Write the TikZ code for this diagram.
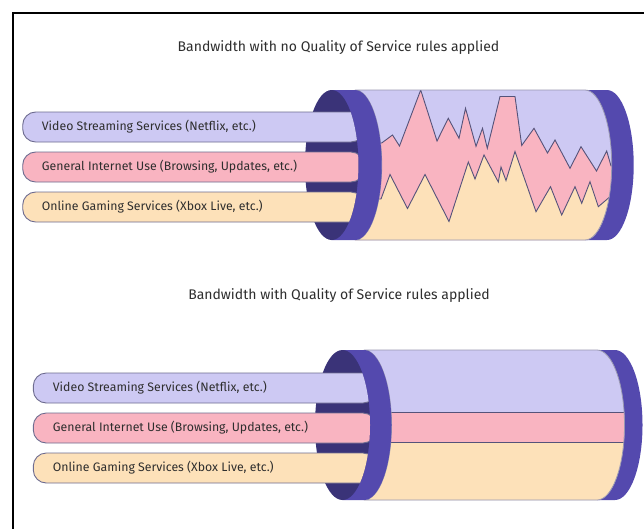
\documentclass[tikz,border=0pt]{standalone}
\usepackage{fontspec}
\setmainfont{Fira Sans}
\definecolor{vid}{HTML}{CDC9F3}
\definecolor{gen}{HTML}{F9B4C1}
\definecolor{game}{HTML}{FDE1B9}
\definecolor{rimc}{HTML}{5449AE}
\definecolor{holec}{HTML}{3A3378}
\definecolor{edgec}{HTML}{6E6C90}
\definecolor{zigc}{HTML}{55537A}
\definecolor{txt}{HTML}{2E2E2E}
% tube shapes: #1 left x, #2 right x, #3 x radius, #4 top y, #5 bottom y
\newcommand\shellpath[5]{(#1,#4) -- (#2,#4) arc[start angle=-90,end angle=90,x radius=#3,y radius=75] -- (#1,#5) arc[start angle=90,end angle=-90,x radius=#3,y radius=75] -- cycle}
\newcommand\rimpath[5]{(#1,#4) -- (#2,#4) arc[start angle=-90,end angle=90,x radius=#3,y radius=75] -- (#1,#5) -- cycle}
% region left of a tube opening: #1 centre x, #2 x radius, #3 top y
\newcommand\openclip[3]{(0,0) -- (#1,0) -- (#1,#3) arc[start angle=-90,end angle=90,x radius=#2,y radius=75] -- (#1,528) -- (0,528) -- cycle}
\begin{document}
\begin{tikzpicture}[x=1pt,y=-1pt,
  pill/.style={draw=edgec,line width=0.9pt,rounded corners=13pt},
  lbl/.style={anchor=west,inner sep=0pt,text=txt,font=\fontsize{12.3}{14}\selectfont},
  ttl/.style={inner sep=0pt,text=txt,font=\fontsize{14}{16}\selectfont},
  zig/.style={draw=zigc,line width=0.9pt,line join=miter},
  shell/.style={draw=edgec!70,line width=0.8pt}]
\useasboundingbox (0,0) rectangle (644,528);
\fill[white] (0,0) rectangle (644,528);
% frame
\draw[line width=2pt] (12.7,529) -- (12.7,12.7) -- (645,12.7);

% ---------- titles ----------
\node[ttl] (t1) at (338.5,48) {Bandwidth with no Quality of Service rules applied};
\node[ttl] (t2) at (339,296) {Bandwidth with Quality of Service rules applied};

% ---------- upper tube (no QoS) ----------
\fill[rimc] \rimpath{585}{607}{26.7}{90}{240};
\fill[vid] \shellpath{355}{585}{26.7}{90}{240};
\begin{scope}
  \clip \shellpath{355}{585}{26.7}{90}{240};
  \fill[gen] (340,143) -- (381.7,143) -- (392.5,135) -- (399.5,146) -- (420.7,90) -- (437,141) -- (448.3,118.3) -- (459,138.3) -- (465.5,108.3) -- (476,146.3) -- (482.5,128.3) -- (487.3,148.3) -- (500,96.5) -- (515,96.5) -- (521.7,145.5) -- (534,128.3) -- (547.5,153) -- (555,140) -- (570,168.3) -- (581,146.7) -- (596.5,171) -- (606.7,151) -- (611,166) -- (640,166) -- (640,260) -- (340,260) -- cycle;
  \fill[game] (340,199) -- (381,199) -- (390,174.5) -- (407.5,208.5) -- (425,174.5) -- (449,221.5) -- (468.3,162) -- (475,179) -- (484,155) -- (498.3,182) -- (501,167) -- (506,180.5) -- (515,151.5) -- (536,211.7) -- (550.5,186.7) -- (561.7,215) -- (575,186.7) -- (581.7,203.3) -- (590,181.7) -- (598.3,206.7) -- (610,196.7) -- (640,185) -- (640,260) -- (340,260) -- cycle;
  \draw[zig] (340,143) -- (381.7,143) -- (392.5,135) -- (399.5,146) -- (420.7,90) -- (437,141) -- (448.3,118.3) -- (459,138.3) -- (465.5,108.3) -- (476,146.3) -- (482.5,128.3) -- (487.3,148.3) -- (500,96.5) -- (515,96.5) -- (521.7,145.5) -- (534,128.3) -- (547.5,153) -- (555,140) -- (570,168.3) -- (581,146.7) -- (596.5,171) -- (606.7,151) -- (611,166) -- (640,166);
  \draw[zig] (340,199) -- (381,199) -- (390,174.5) -- (407.5,208.5) -- (425,174.5) -- (449,221.5) -- (468.3,162) -- (475,179) -- (484,155) -- (498.3,182) -- (501,167) -- (506,180.5) -- (515,151.5) -- (536,211.7) -- (550.5,186.7) -- (561.7,215) -- (575,186.7) -- (581.7,203.3) -- (590,181.7) -- (598.3,206.7) -- (610,196.7) -- (640,185);
\end{scope}
\draw[shell] \shellpath{355}{585}{26.7}{90}{240};
\fill[rimc] \rimpath{331.7}{355}{26.7}{90}{240};
\fill[holec] (331.7,165) ellipse[x radius=26.7,y radius=75];
\begin{scope}
  \clip \openclip{331.7}{26.7}{90};
  \fill[pill,fill=vid]  (364,112) -- (22.7,112) -- (22.7,142) -- (364,142) -- cycle;
  \fill[pill,fill=gen]  (364,152) -- (22.7,152) -- (22.7,182) -- (364,182) -- cycle;
  \fill[pill,fill=game] (364,192) -- (22.7,192) -- (22.7,222) -- (364,222) -- cycle;
\end{scope}
\node[lbl] (a1) at (41.7,127) {Video Streaming Services (Netflix, etc.)};
\node[lbl] (a2) at (41.7,167) {General Internet Use (Browsing, Updates, etc.)};
\node[lbl] (a3) at (41.7,207) {Online Gaming Services (Xbox Live, etc.)};

% ---------- lower tube (with QoS) ----------
\fill[rimc] \rimpath{597}{615}{27.5}{350}{500};
\fill[vid] \shellpath{364}{597}{27.5}{350}{500};
\begin{scope}
  \clip \shellpath{364}{597}{27.5}{350}{500};
  \fill[gen] (330,412) rectangle (640,442);
  \fill[game] (330,442) rectangle (640,510);
  \draw[zig] (330,412) -- (640,412);
  \draw[zig] (330,442) -- (640,442);
\end{scope}
\draw[shell] \shellpath{364}{597}{27.5}{350}{500};
\fill[rimc] \rimpath{342.5}{364}{27.5}{350}{500};
\fill[holec] (342.5,425) ellipse[x radius=27.5,y radius=75];
\begin{scope}
  \clip \openclip{342.5}{27.5}{350};
  \fill[pill,fill=vid]  (376,373) -- (33.3,373) -- (33.3,403) -- (376,403) -- cycle;
  \fill[pill,fill=gen]  (376,413) -- (33.3,413) -- (33.3,443) -- (376,443) -- cycle;
  \fill[pill,fill=game] (376,453) -- (33.3,453) -- (33.3,483) -- (376,483) -- cycle;
\end{scope}
\node[lbl] (b1) at (52.7,388) {Video Streaming Services (Netflix, etc.)};
\node[lbl] (b2) at (52.7,428) {General Internet Use (Browsing, Updates, etc.)};
\node[lbl] (b3) at (52.7,468) {Online Gaming Services (Xbox Live, etc.)};
\end{tikzpicture}
\end{document}
